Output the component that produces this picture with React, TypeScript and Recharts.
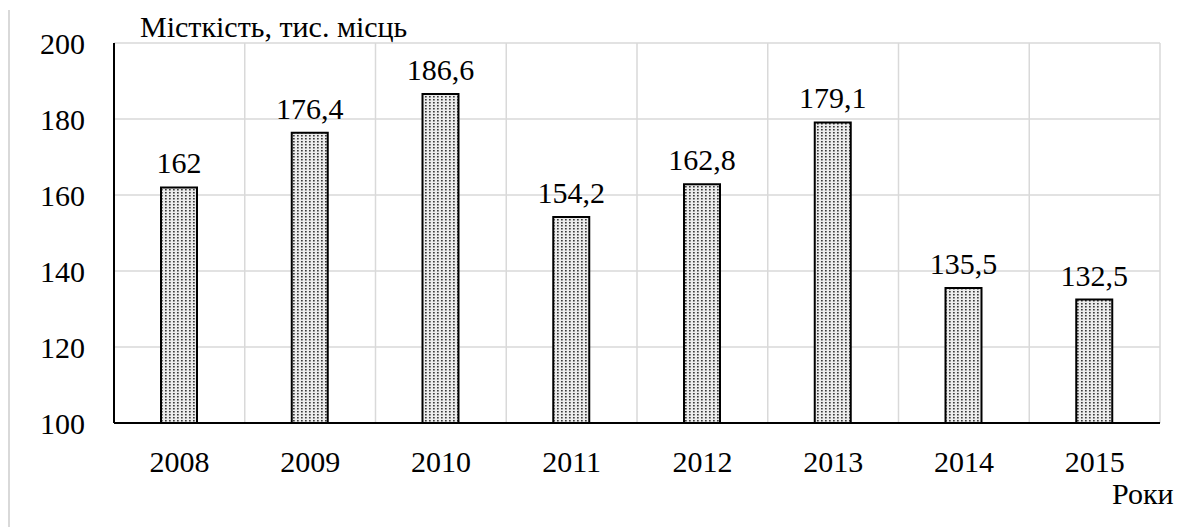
import React from "react";
import { BarChart, Bar, XAxis, YAxis, CartesianGrid, LabelList } from "recharts";

const years = ["2008", "2009", "2010", "2011", "2012", "2013", "2014", "2015"];
const capacity = [162, 176.4, 186.6, 154.2, 162.8, 179.1, 135.5, 132.5];
const yTicks = [100, 120, 140, 160, 180, 200];
const titleText = "Місткість, тис. місць";
const xAxisTitle = "Роки";

const data = years.map((y, i) => ({ year: y, value: capacity[i] }));

const FONT = "'Liberation Serif', serif";
const FS = 30;

const fmt = (v: number) => String(v).replace(".", ",");

export default function App() {
  const W = 1196;
  const H = 519;
  return (
    <div style={{ position: "relative", width: W, height: H, fontFamily: FONT }}>
      <div
        style={{
          position: "absolute",
          left: 0,
          top: 2,
          width: 2,
          height: H,
          background: "#d9d9d9",
        }}
      />
      <div
        style={{
          position: "absolute",
          left: 132,
          top: 4,
          fontSize: FS,
          lineHeight: "30px",
          color: "#000",
          whiteSpace: "nowrap",
          fontFamily: FONT,
        }}
      >
        {titleText}
      </div>
      <div
        style={{
          position: "absolute",
          left: 1104,
          top: 471,
          fontSize: FS,
          lineHeight: "30px",
          color: "#000",
          whiteSpace: "nowrap",
          fontFamily: FONT,
        }}
      >
        {xAxisTitle}
      </div>
      <BarChart
        width={W}
        height={H}
        data={data}
        margin={{ top: 35, right: 44, left: 0, bottom: 44 }}
        barCategoryGap={0}
        style={{ fontFamily: FONT }}
      >
        <defs>
          <pattern id="dots" width="4" height="3" patternUnits="userSpaceOnUse">
            <rect width="4" height="3" fill="#ececec" />
            <rect x="1" y="1" width="1.7" height="1.5" fill="#3a3a3a" />
          </pattern>
        </defs>
        <CartesianGrid
          stroke="#d9d9d9"
          strokeWidth={1.5}
          verticalCoordinatesGenerator={({ offset }: any) =>
            years.map((_, i) => offset.left + ((i + 1) * offset.width) / years.length)
          }
        />
        <XAxis
          dataKey="year"
          height={60}
          axisLine={{ stroke: "#000", strokeWidth: 2 }}
          tickLine={false}
          tickSize={0}
          tickMargin={28}
          tick={{ fill: "#000", fontSize: FS, fontFamily: FONT }}
          interval={0}
        />
        <YAxis
          width={106}
          domain={[100, 200]}
          ticks={yTicks}
          allowDataOverflow
          axisLine={{ stroke: "#000", strokeWidth: 2 }}
          tickLine={false}
          tickSize={0}
          tickMargin={29}
          tick={{ fill: "#000", fontSize: FS, fontFamily: FONT }}
        />
        <Bar
          dataKey="value"
          barSize={36}
          fill="url(#dots)"
          stroke="#000"
          strokeWidth={2}
          isAnimationActive={false}
        >
          <LabelList
            dataKey="value"
            position="top"
            offset={14}
            formatter={(v: any) => fmt(Number(v))}
            style={{ fill: "#000", fontSize: FS, fontFamily: FONT }}
          />
        </Bar>
      </BarChart>
    </div>
  );
}
